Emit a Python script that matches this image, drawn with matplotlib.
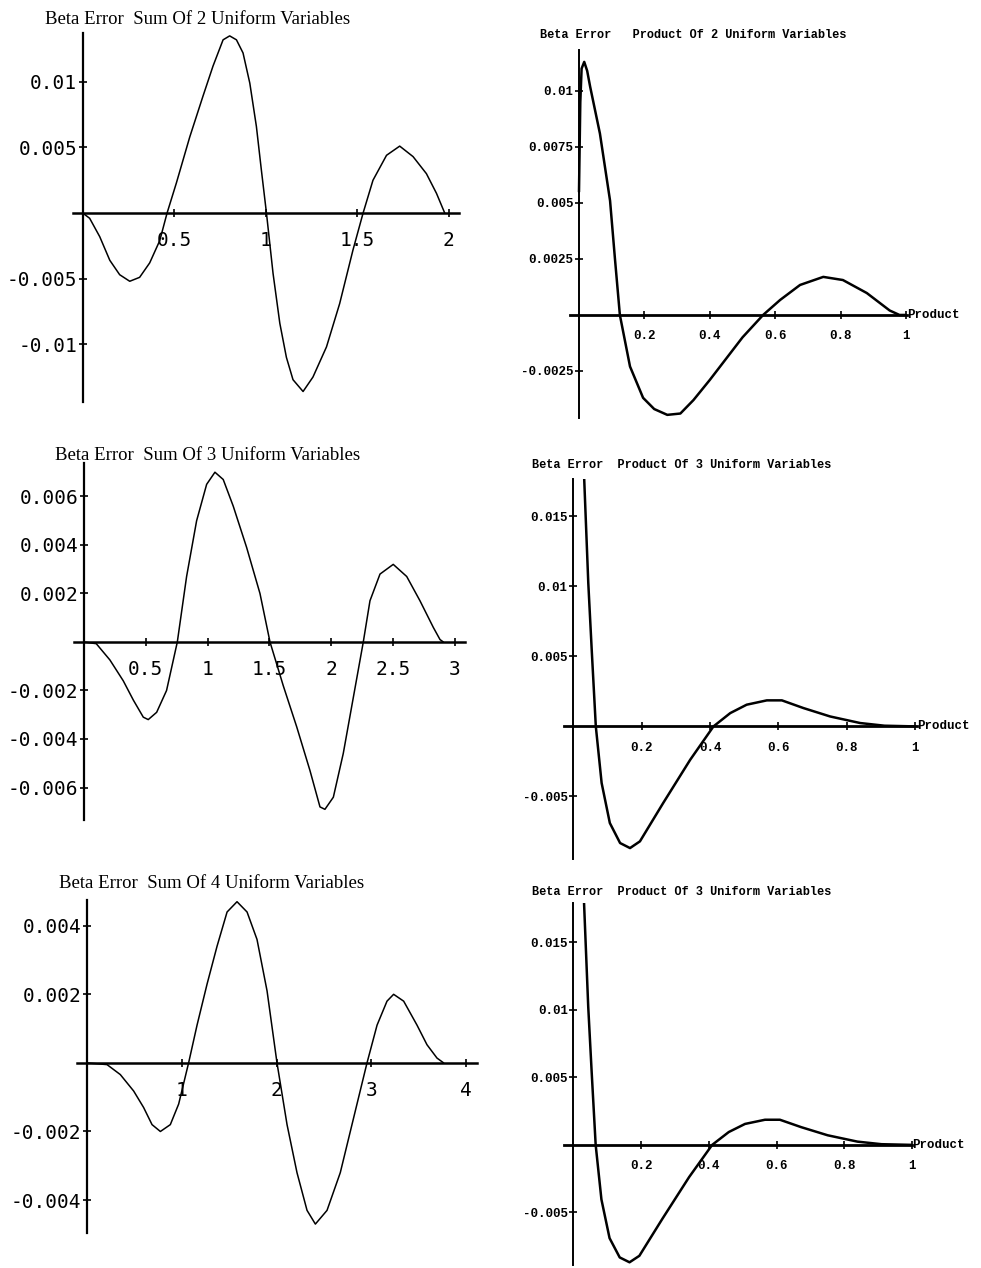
import matplotlib.pyplot as plt
from matplotlib.ticker import FormatStrFormatter

W, H = 981, 1268

# values
sum2_x = [0, 0.038, 0.093, 0.148, 0.202, 0.257, 0.311, 0.366, 0.421, 0.461, 0.512, 0.585, 0.657,
          0.712, 0.767, 0.803, 0.84, 0.876, 0.913, 0.949, 0.976, 1.004, 1.04, 1.077, 1.113, 1.149,
          1.204, 1.258, 1.332, 1.404, 1.477, 1.532, 1.586, 1.66, 1.732, 1.805, 1.878, 1.933, 1.978]
sum2_y = [0, -0.0004, -0.0018, -0.0036, -0.0047, -0.0052, -0.0049, -0.0038, -0.0021, 0, 0.0023,
          0.0058, 0.0089, 0.0112, 0.0132, 0.0135, 0.0132, 0.0122, 0.0099, 0.0066, 0.0033, 0,
          -0.0046, -0.0084, -0.0110, -0.0127, -0.0136, -0.0125, -0.0102, -0.0069, -0.0028, 0,
          0.0025, 0.0044, 0.0051, 0.0043, 0.0030, 0.0015, 0]

sum3_x = [0, 0.10, 0.21, 0.318, 0.40, 0.48, 0.52, 0.588, 0.668, 0.755, 0.83, 0.911, 0.992, 1.059,
          1.126, 1.207, 1.315, 1.423, 1.504, 1.611, 1.72, 1.827, 1.908, 1.948, 2.016, 2.096, 2.177,
          2.258, 2.312, 2.393, 2.50, 2.609, 2.716, 2.824, 2.878, 2.905]
sum3_y = [0, -0.00007, -0.00074, -0.0016, -0.0024, -0.0031, -0.0032, -0.0029, -0.0020, 0, 0.0027,
          0.0050, 0.0065, 0.0070, 0.0067, 0.0056, 0.0039, 0.0020, 0, -0.0018, -0.0035, -0.0053,
          -0.0068, -0.0069, -0.0064, -0.0046, -0.0023, 0, 0.0017, 0.0028, 0.0032, 0.0027, 0.0017,
          0.0006, 0.0001, 0]

sum4_x = [0, 0.211, 0.351, 0.492, 0.597, 0.686, 0.774, 0.879, 0.967, 1.072, 1.161, 1.267, 1.372,
          1.478, 1.583, 1.689, 1.794, 1.90, 2.005, 2.111, 2.216, 2.322, 2.41, 2.533, 2.673, 2.814,
          2.955, 3.061, 3.166, 3.236, 3.342, 3.483, 3.588, 3.694, 3.764]
sum4_y = [0, -0.00005, -0.00034, -0.00082, -0.0013, -0.0018, -0.0020, -0.0018, -0.0012, 0, 0.0011,
          0.0023, 0.0034, 0.0044, 0.0047, 0.0044, 0.0036, 0.0021, 0, -0.0018, -0.0032, -0.0043,
          -0.0047, -0.0043, -0.0032, -0.0016, 0, 0.0011, 0.0018, 0.0020, 0.0018, 0.0011, 0.00053,
          0.00014, 0]

prod2_x = [0, 0.004, 0.008, 0.016, 0.025, 0.034, 0.064, 0.095, 0.110, 0.125, 0.156, 0.196, 0.23,
           0.27, 0.31, 0.35, 0.40, 0.50, 0.563, 0.615, 0.676, 0.747, 0.807, 0.88, 0.95, 0.98, 1.0]
prod2_y = [0.0055, 0.0095, 0.0110, 0.0113, 0.0109, 0.0102, 0.0081, 0.0051, 0.0025, 0, -0.0023,
           -0.0037, -0.0042, -0.00446, -0.0044, -0.0038, -0.0029, -0.0010, 0, 0.00067, 0.00134,
           0.0017, 0.00156, 0.00098, 0.0002, 0, 0]

prod3_x = [0.026, 0.032, 0.044, 0.054, 0.066, 0.083, 0.107, 0.137, 0.166, 0.195, 0.263, 0.342,
           0.41, 0.459, 0.507, 0.566, 0.61, 0.673, 0.751, 0.839, 0.91, 1.0]
prod3_y = [0.0215, 0.0177, 0.01024, 0.00548, 0, -0.00404, -0.0069, -0.00833, -0.00869, -0.00821,
           -0.00547, -0.00238, 0, 0.00095, 0.00155, 0.00186, 0.00186, 0.00131, 0.00071, 0.00024,
           0.00005, 0]

titles = ["Beta Error  Sum Of 2 Uniform Variables",
          "Beta Error   Product Of 2 Uniform Variables",
          "Beta Error  Sum Of 3 Uniform Variables",
          "Beta Error  Product Of 3 Uniform Variables",
          "Beta Error  Sum Of 4 Uniform Variables",
          "Beta Error  Product Of 3 Uniform Variables"]

# layout: axes box in pixels (left, top, right, bottom), limits, ticks, title position
panels = [
    dict(x=sum2_x, y=sum2_y, box=(73, 33, 459, 402), xlim=(-0.053, 2.056), ylim=(-0.0144, 0.01372),
         xt=[0.5, 1, 1.5, 2], yt=[-0.01, -0.005, 0.005, 0.01], tpos=(45, 20), kind="sum"),
    dict(x=prod2_x, y=prod2_y, box=(570, 50, 907, 418), xlim=(-0.0275, 1.003), ylim=(-0.0046, 0.01183),
         xt=[0.2, 0.4, 0.6, 0.8, 1], yt=[-0.0025, 0.0025, 0.005, 0.0075, 0.01], tpos=(540, 35), kind="prod"),
    dict(x=sum3_x, y=sum3_y, box=(74, 463, 465, 820), xlim=(-0.08, 3.08), ylim=(-0.00734, 0.00738),
         xt=[0.5, 1, 1.5, 2, 2.5, 3], yt=[-0.006, -0.004, -0.002, 0.002, 0.004, 0.006], tpos=(55, 455), kind="sum"),
    dict(x=prod3_x, y=prod3_y, box=(564, 479, 917, 859), xlim=(-0.027, 1.005), ylim=(-0.00947, 0.01767),
         xt=[0.2, 0.4, 0.6, 0.8, 1], yt=[-0.005, 0.005, 0.01, 0.015], tpos=(532, 465), kind="prod"),
    dict(x=sum4_x, y=sum4_y, box=(77, 900, 477, 1233), xlim=(-0.106, 4.116), ylim=(-0.00496, 0.00475),
         xt=[1, 2, 3, 4], yt=[-0.004, -0.002, 0.002, 0.004], tpos=(59, 884), kind="sum"),
    dict(x=prod3_x, y=prod3_y, box=(564, 903, 912, 1265), xlim=(-0.0275, 1.0), ylim=(-0.00889, 0.0179),
         xt=[0.2, 0.4, 0.6, 0.8, 1], yt=[-0.005, 0.005, 0.01, 0.015], tpos=(532, 892), kind="prod"),
]

fig = plt.figure(figsize=(W / 100, H / 100), dpi=100)
fig.patch.set_facecolor("white")

for p, title in zip(panels, titles):
    l, t, r, b = p["box"]
    ax = fig.add_axes([l / W, 1 - b / H, (r - l) / W, (b - t) / H])
    prod = p["kind"] == "prod"

    ax.plot(p["x"], p["y"], color="black", lw=1.8 if prod else 1.1,
            solid_joinstyle="round", solid_capstyle="round")
    ax.set_xlim(*p["xlim"])
    ax.set_ylim(*p["ylim"])

    for side in ["top", "right"]:
        ax.spines[side].set_visible(False)
    ax.spines["left"].set_position(("data", 0))
    ax.spines["bottom"].set_position(("data", 0))
    ax.spines["left"].set_linewidth(1.4 if prod else 1.6)
    ax.spines["bottom"].set_linewidth(2.0 if prod else 1.8)
    ax.patch.set_alpha(0)

    ax.set_xticks(p["xt"])
    ax.set_yticks(p["yt"])
    ax.xaxis.set_major_formatter(FormatStrFormatter("%g"))
    ax.yaxis.set_major_formatter(FormatStrFormatter("%g"))

    if prod:
        tick_font = dict(family="Liberation Mono", weight="bold", size=9)
    else:
        tick_font = dict(family="DejaVu Sans Mono", size=14)
    ax.tick_params(axis="both", direction="inout", length=6, width=1.2)
    ax.tick_params(axis="x", pad=8 if prod else 10)
    ax.tick_params(axis="y", pad=1)
    for lab in ax.get_xticklabels() + ax.get_yticklabels():
        lab.set_fontfamily(tick_font["family"])
        lab.set_fontsize(tick_font["size"])
        lab.set_fontweight(tick_font.get("weight", "normal"))

    if prod:
        ax.text(p["xlim"][1], 0, "Product", ha="left", va="center", clip_on=False,
                fontfamily="Liberation Mono", fontweight="bold", fontsize=9)
        fig.text(p["tpos"][0] / W, 1 - p["tpos"][1] / H, title, ha="left", va="center",
                 fontfamily="Liberation Mono", fontweight="bold", fontsize=8.6)
    else:
        fig.text(p["tpos"][0] / W, 1 - p["tpos"][1] / H, title, ha="left", va="center",
                 fontfamily="Liberation Serif", fontsize=13.5)

fig.savefig("out.png", dpi=100, facecolor="white")
